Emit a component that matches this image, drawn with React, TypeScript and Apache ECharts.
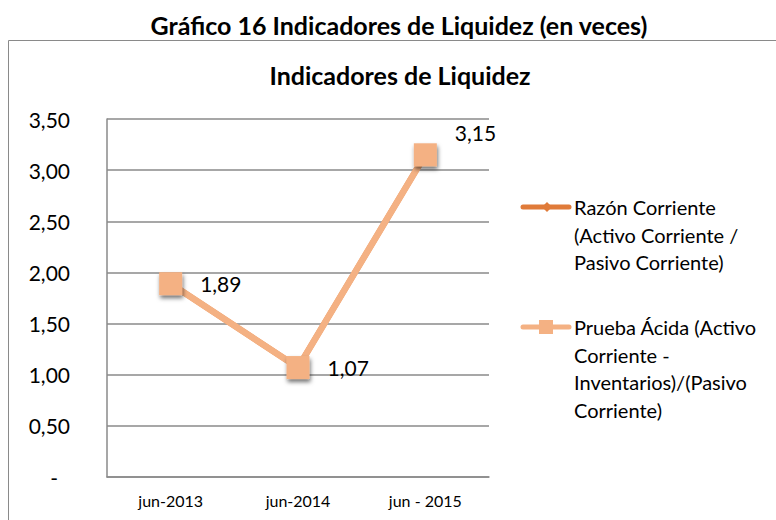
import React, { useEffect, useRef } from "react";
import * as echarts from "echarts";

const categories = ["jun-2013", "jun-2014", "jun - 2015"];
const razonCorriente = [1.89, 1.07, 3.15];
const pruebaAcida = [1.89, 1.07, 3.15];
const yTicks = { min: 0, max: 3.5, interval: 0.5 };
const seriesNames = [
  "Razón Corriente (Activo Corriente / Pasivo Corriente)",
  "Prueba Ácida (Activo Corriente - Inventarios)/(Pasivo Corriente)",
];
const legendLines = [
  ["Razón Corriente", "(Activo Corriente /", "Pasivo Corriente)"],
  ["Prueba Ácida (Activo", "Corriente -", "Inventarios)/(Pasivo", "Corriente)"],
];
const outerTitle = "Gráfico 16 Indicadores de Liquidez (en veces)";
const innerTitle = "Indicadores de Liquidez";

const COLOR1 = "#E07B39";
const COLOR2 = "#F4B183";
const FONT = "Lato, 'Open Sans', sans-serif";

const fmt = (v: number) => v.toFixed(2).replace(".", ",");

export default function App() {
  const ref = useRef<HTMLDivElement>(null);
  useEffect(() => {
    document.body.style.margin = "0";
    const chart = echarts.init(ref.current!, null, { renderer: "svg" });
    const legendGraphics: any[] = [];
    const legendY = [207, 327];
    legendLines.forEach((lines, i) => {
      const y = legendY[i];
      const color = i === 0 ? COLOR1 : COLOR2;
      legendGraphics.push({
        type: "line",
        shape: { x1: 523, y1: y, x2: 569, y2: y },
        style: { stroke: color, lineWidth: 5, lineCap: "round" },
      });
      if (i === 0) {
        legendGraphics.push({
          type: "polygon",
          shape: { points: [[547, y - 5], [552, y], [547, y + 5], [542, y]] },
          style: { fill: color },
        });
      } else {
        legendGraphics.push({
          type: "rect",
          shape: { x: 539, y: y - 7, width: 14, height: 14 },
          style: { fill: color },
        });
      }
      lines.forEach((t, j) => {
        legendGraphics.push({
          type: "text",
          x: 574,
          y: y + j * 27.5,
          style: {
            text: t,
            fill: "#000",
            font: `20px ${FONT}`,
            textVerticalAlign: "middle",
            verticalAlign: "middle",
          },
        });
      });
    });

    const labelFor = (i: number) =>
      i === 2 ? { offset: [0, -22] } : {};

    chart.setOption({
      animation: false,
      textStyle: { fontFamily: FONT },
      graphic: [
        {
          type: "rect",
          shape: { x: 8.5, y: 40.5, width: 900, height: 600 },
          style: { fill: "none", stroke: "#8a8a8a", lineWidth: 1 },
          silent: true,
        },
        {
          type: "text",
          x: 399,
          y: 25,
          style: {
            text: outerTitle,
            font: `bold 25px ${FONT}`,
            fill: "#000",
            textAlign: "center",
            textVerticalAlign: "middle",
            align: "center",
            verticalAlign: "middle",
          },
        },
        {
          type: "text",
          x: 400,
          y: 75,
          style: {
            text: innerTitle,
            font: `bold 25px ${FONT}`,
            fill: "#000",
            textAlign: "center",
            textVerticalAlign: "middle",
            align: "center",
            verticalAlign: "middle",
          },
        },
        ...legendGraphics,
      ],
      grid: { left: 107, top: 119, right: 287, bottom: 43, containLabel: false },
      xAxis: {
        type: "category",
        data: categories,
        boundaryGap: true,
        axisLine: { lineStyle: { color: "#8a8a8a", width: 1.5 } },
        axisTick: { show: false },
        axisLabel: { color: "#000", fontSize: 16, margin: 15, fontFamily: FONT },
      },
      yAxis: {
        type: "value",
        min: yTicks.min,
        max: yTicks.max,
        interval: yTicks.interval,
        axisLine: { show: true, lineStyle: { color: "#8a8a8a", width: 1.5 } },
        axisTick: { show: false },
        splitLine: { lineStyle: { color: "#8a8a8a", width: 1.5 } },
        axisLabel: {
          color: "#000",
          fontSize: 21,
          margin: 37,
          fontFamily: FONT,
          formatter: (v: number) => (v === 0 ? "{d|-}" : fmt(v)),
          rich: { d: { fontSize: 21, color: "#000", padding: [0, 12, 0, 0], fontFamily: FONT } },
        },
      },
      series: [
        {
          name: seriesNames[0],
          type: "line",
          data: razonCorriente,
          symbol: "diamond",
          symbolSize: 12,
          lineStyle: { color: COLOR1, width: 6 },
          itemStyle: { color: COLOR1 },
          z: 2,
        },
        {
          name: seriesNames[1],
          type: "line",
          data: pruebaAcida.map((v, i) => ({ value: v, label: labelFor(i) })),
          symbol: "rect",
          symbolSize: 23,
          lineStyle: { color: COLOR2, width: 6.5 },
          itemStyle: {
            color: COLOR2,
            shadowColor: "rgba(0,0,0,0.55)",
            shadowBlur: 4,
            shadowOffsetX: 1,
            shadowOffsetY: 3,
          },
          label: {
            show: true,
            position: "right",
            distance: 18,
            color: "#000",
            fontSize: 21,
            fontFamily: FONT,
            formatter: (p: any) => fmt(p.value),
          },
          z: 3,
        },
      ],
    });
    return () => chart.dispose();
  }, []);
  return <div ref={ref} style={{ width: 776, height: 520 }} />;
}
